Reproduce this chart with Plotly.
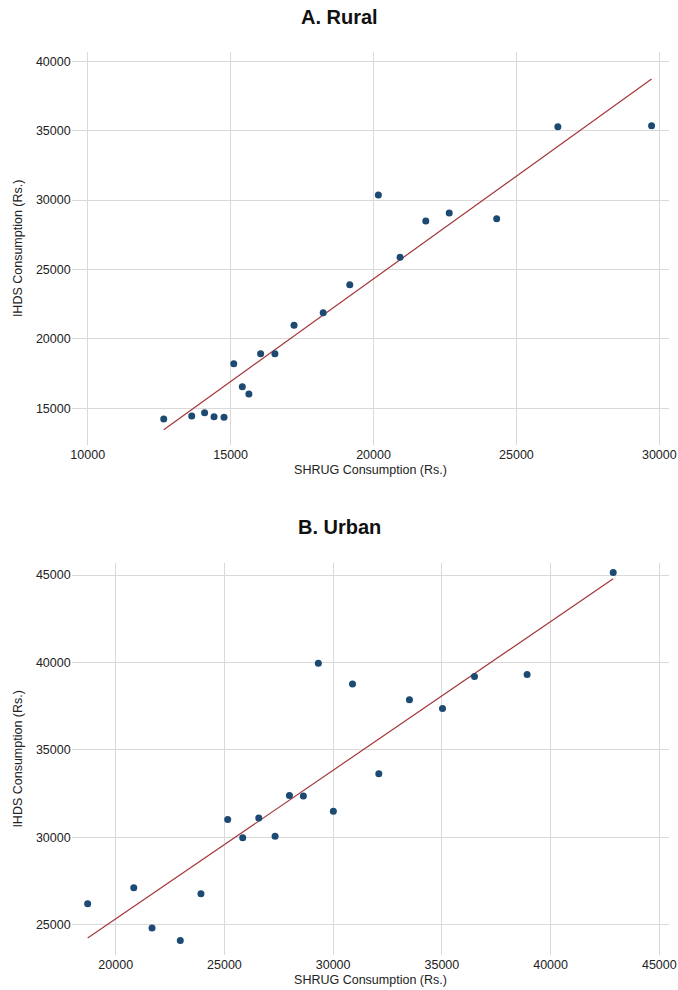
import numpy as np
import plotly.graph_objects as go

# ---- data ----
rural_shrug = [12660, 13640, 14090, 14420, 14770, 15110, 15410, 15640, 16050, 16550,
               17220, 18240, 19170, 20170, 20930, 21830, 22650, 24310, 26450, 29730]
rural_ihds = [14230, 14450, 14680, 14400, 14350, 18210, 16560, 16030, 18930, 18930,
              20980, 21890, 23910, 30370, 25880, 28490, 29070, 28660, 35290, 35360]

urban_shrug = [18710, 20830, 21670, 22970, 23920, 25150, 25840, 26580, 27330, 27990,
               28630, 29320, 30010, 30890, 32100, 33510, 35030, 36500, 38920, 42880]
urban_ihds = [26200, 27120, 24810, 24090, 26770, 31010, 29980, 31100, 30060, 32390,
              32360, 39960, 31490, 38760, 33630, 37860, 37370, 39200, 39310, 45150]

rural_xticks = [10000, 15000, 20000, 25000, 30000]
rural_yticks = [15000, 20000, 25000, 30000, 35000, 40000]
urban_xticks = [20000, 25000, 30000, 35000, 40000, 45000]
urban_yticks = [25000, 30000, 35000, 40000, 45000]

titles = ["A. Rural", "B. Urban"]
x_title = "SHRUG Consumption (Rs.)"
y_title = "IHDS Consumption (Rs.)"

POINT = "#1c4a73"
LINE = "#a3373b"
GRID = "#d9d9d9"
FONT = "Liberation Sans, Arial, Helvetica, sans-serif"

fig = go.Figure()


def add_panel(xs, ys, xaxis, yaxis):
    xs = np.asarray(xs, float)
    ys = np.asarray(ys, float)
    slope, intercept = np.polyfit(xs, ys, 1)
    lx = np.array([xs.min(), xs.max()])
    fig.add_trace(go.Scatter(x=lx, y=intercept + slope * lx, mode="lines",
                             line=dict(color=LINE, width=1.2),
                             xaxis=xaxis, yaxis=yaxis, showlegend=False,
                             hoverinfo="skip"))
    fig.add_trace(go.Scatter(x=xs, y=ys, mode="markers",
                             marker=dict(color=POINT, size=7),
                             xaxis=xaxis, yaxis=yaxis, showlegend=False))


add_panel(rural_shrug, rural_ihds, "x", "y")
add_panel(urban_shrug, urban_ihds, "x2", "y2")

W, H = 678, 990
xd = [71.7 / W, 669.3 / W]
top_dom = [1 - 445 / H, 1 - 51.7 / H]
bot_dom = [1 - 955 / H, 1 - 562.7 / H]

axis_common = dict(showgrid=True, gridcolor=GRID, gridwidth=1, zeroline=False,
                   showline=False, ticks="", tickformat="d", automargin=False,
                   tickfont=dict(size=12.5, color="#222"),
                   title_font=dict(size=12.5, color="#222"))

fig.update_layout(
    width=W, height=H,
    margin=dict(l=0, r=0, t=0, b=0),
    paper_bgcolor="white", plot_bgcolor="white",
    font=dict(family=FONT, color="#222"),
    xaxis=dict(domain=xd, anchor="y", range=[9440, 30350], tickvals=rural_xticks,
               title=dict(text=x_title, standoff=4), **axis_common),
    yaxis=dict(domain=top_dom, anchor="x", range=[12356, 40692], tickvals=rural_yticks,
               title=dict(text=y_title, standoff=10), **axis_common),
    xaxis2=dict(domain=xd, anchor="y2", range=[17976, 45460], tickvals=urban_xticks,
                title=dict(text=x_title, standoff=4), **axis_common),
    yaxis2=dict(domain=bot_dom, anchor="x2", range=[23267, 45704], tickvals=urban_yticks,
                title=dict(text=y_title, standoff=10), **axis_common),
    annotations=[
        dict(text="<b>%s</b>" % titles[0], x=0.5, y=1 - 17 / H, xref="paper", yref="paper",
             showarrow=False, font=dict(size=20, color="#111"), xanchor="center", yanchor="middle"),
        dict(text="<b>%s</b>" % titles[1], x=0.5, y=1 - 527 / H, xref="paper", yref="paper",
             showarrow=False, font=dict(size=20, color="#111"), xanchor="center", yanchor="middle"),
    ],
)

fig.write_html("out.html", config={"displayModeBar": False},
               post_script="document.body.style.margin='0';")
